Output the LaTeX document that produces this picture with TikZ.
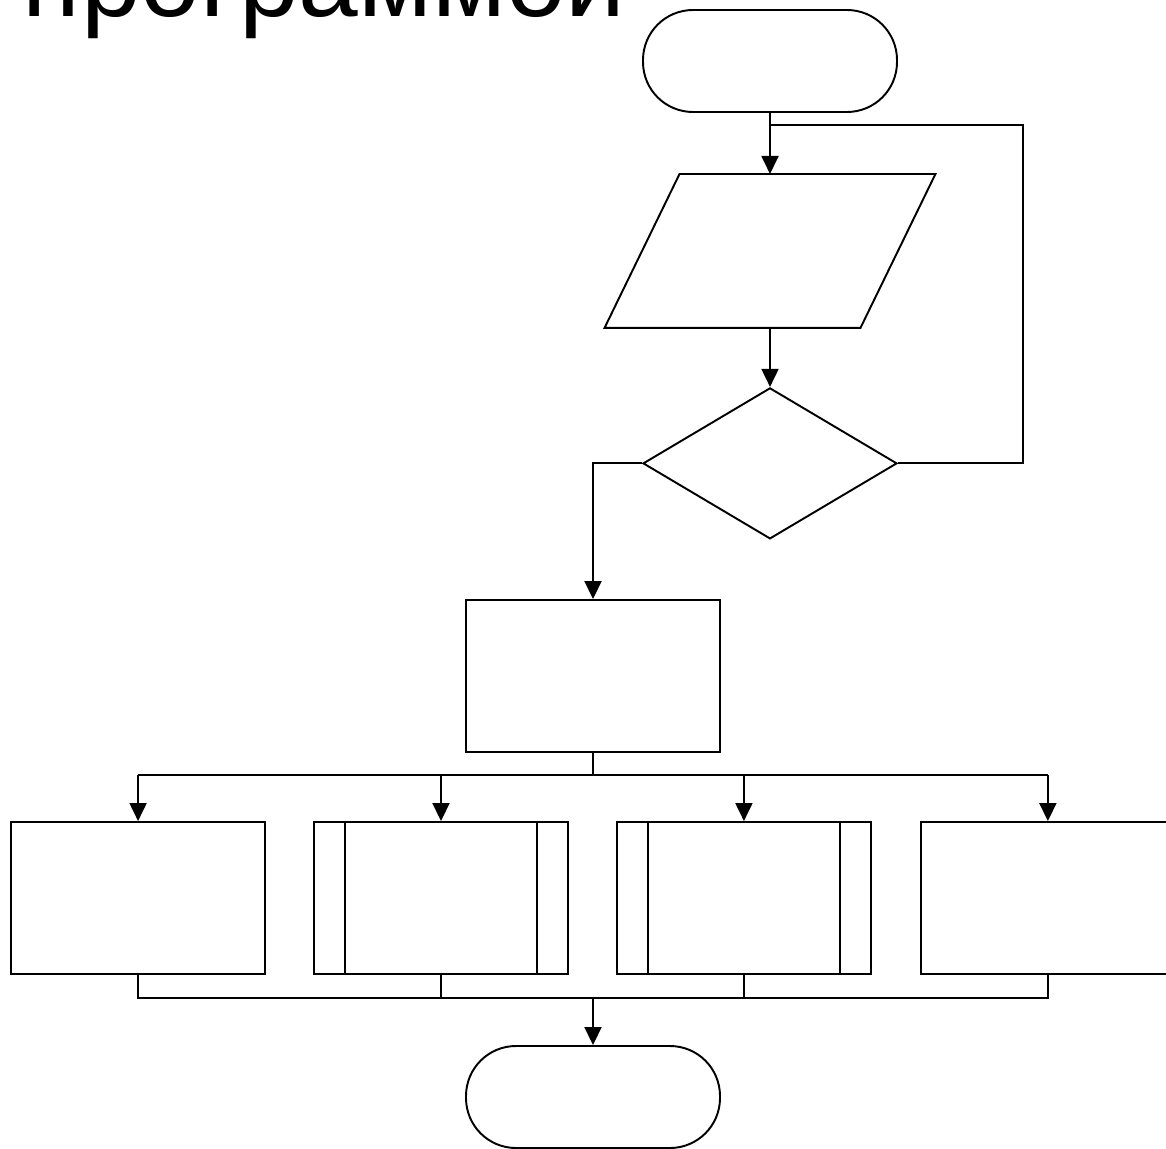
\documentclass[tikz,border=0pt]{standalone}
\usepackage{fontspec}
\setmainfont{Liberation Sans}
\usetikzlibrary{positioning,shapes.geometric,arrows.meta}

\begin{document}
\begin{tikzpicture}[
        line width=1.1pt,
        terminal/.style={rectangle, draw, rounded corners=1cm, minimum width=5.08cm, minimum height=2.04cm},
        io/.style={rectangle, minimum width=5.08cm, minimum height=3.04cm, inner sep=0pt},
        decision/.style={diamond, draw, aspect=1.68, minimum width=5.08cm, minimum height=3.02cm, inner sep=0pt},
        process/.style={rectangle, draw, minimum width=5.08cm, minimum height=3.04cm, inner sep=0pt},
        predef/.style={process, path picture={
            \draw ([xshift=0.62cm]path picture bounding box.north west) -- ([xshift=0.62cm]path picture bounding box.south west);
            \draw ([xshift=-0.62cm]path picture bounding box.north east) -- ([xshift=-0.62cm]path picture bounding box.south east);}},
        flow/.style={draw, -{Triangle[length=0.36cm, width=0.34cm]}}
    ]
        \useasboundingbox (0,0) rectangle (23.32,-22.98);

        % Title
        \node[anchor=base west, inner sep=0pt, font=\fontsize{61}{70}\selectfont] (title) at (0.44,-0.34) {программой};

        % Nodes
        \node[terminal] (start) at (15.40,-1.22) {};
        \node[io, below=1.22cm of start] (input) {};
        \draw ([xshift=0.75cm]input.north west) -- ([xshift=0.75cm]input.north east)
            -- ([xshift=-0.75cm]input.south east) -- ([xshift=-0.75cm]input.south west) -- cycle;
        \node[decision, below=1.18cm of input] (check) {};
        \node[process] (proc) at (11.86,-13.52) {};
        \node[predef] (subA) at (8.82,-17.96) {};
        \node[process, left=0.94cm of subA] (actL) {};
        \node[predef, right=0.94cm of subA] (subB) {};
        \node[process, right=0.96cm of subB] (actR) {};
        \node[terminal] (stop) at (11.86,-21.94) {};

        % Junctions
        \coordinate (join) at (15.40,-2.50);
        \coordinate (loop) at (20.46,-2.50);
        \coordinate (split) at (11.86,-15.50);
        \coordinate (merge) at (11.86,-19.96);

        % Edges
        \draw[flow] (start.south) -- (input.north);
        \draw[flow] (input.south) -- (check.north);
        \draw (check.east) -| (loop) -- (join);
        \draw[flow] (check.west) -| (proc.north);
        \draw (proc.south) -- (split);
        \draw (actL.north |- split) -- (actR.north |- split);
        \draw[flow] (actL.north |- split) -- (actL.north);
        \draw[flow] (subA.north |- split) -- (subA.north);
        \draw[flow] (subB.north |- split) -- (subB.north);
        \draw[flow] (actR.north |- split) -- (actR.north);
        \draw (actL.south) |- (merge) -| (actR.south);
        \draw (subA.south) -- (subA.south |- merge);
        \draw (subB.south) -- (subB.south |- merge);
        \draw[flow] (merge) -- (stop.north);
    \end{tikzpicture}
\end{document}
